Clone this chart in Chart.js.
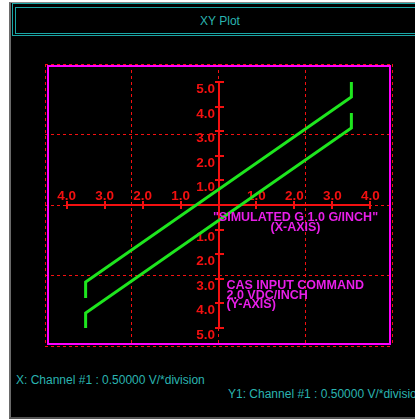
<!DOCTYPE html>
<html>
<head>
<meta charset="utf-8">
<title>XY Plot</title>
<script src="https://cdn.jsdelivr.net/npm/chart.js@4"></script>
<style>
  html, body { margin: 0; padding: 0; background: #fff; width: 415px; height: 419px; overflow: hidden; }
  #panel {
    position: absolute; left: 9px; top: 2px; width: 420px; height: 414px;
    background: #000; border-left: 2px solid #6a6a6a; border-top: 1px solid #8a8a8a; border-bottom: 2px solid #555;
  }
  #titleOuter {
    position: absolute; left: 12px; top: 3px; width: 420px; height: 33px;
    border: 1px solid #1aa6a6; box-sizing: border-box;
  }
  #titleInner {
    position: absolute; left: 15px; top: 7px; width: 420px; height: 27px;
    border: 1px solid #1aa6a6; box-sizing: border-box;
  }
  #title {
    position: absolute; left: 0; width: 440px; top: 14px; text-align: center;
    font: 12px "Liberation Sans", Arial, sans-serif; color: #2ab4b0;
  }
  .chan { position: absolute; font: 12px "Liberation Sans", Arial, sans-serif; color: #2ab4b0; white-space: nowrap; }
  #chart { position: absolute; left: 0; top: 0; }
</style>
</head>
<body>
<div id="panel"></div>
<div id="titleOuter"></div>
<div id="titleInner"></div>
<div id="title">XY Plot</div>
<div class="chan" style="left:16px; top:373px;">X: Channel #1 : 0.50000 V/*division</div>
<div class="chan" style="left:228px; top:387px;">Y1: Channel #1 : 0.50000 V/*division</div>
<canvas id="chart" width="415" height="419"></canvas>
<script>
'use strict';

/* Data (G on x, command volts on y) */
const upperX = [-3.5, -3.5, 3.5, 3.5];
const upperY = [-3.78, -3.13, 4.39, 5.0];
const lowerX = [-3.5, -3.5, 3.5, 3.5];
const lowerY = [-5.0, -4.39, 3.13, 3.74];

/* Axis ticks drawn on the scanned graph */
const xTickValues = [-4, -3, -2, -1, 1, 2, 3, 4];
const xTickLabels = ['4.0', '3.0', '2.0', '1.0', '1.0', '2.0', '3.0', '4.0'];
const yTickValues = [5, 4, 3, 2, 1, -1, -2, -3, -4, -5];
const yTickLabels = ['5.0', '4.0', '3.0', '2.0', '1.0', '1.0', '2.0', '3.0', '4.0', '5.0'];

const xAxisNote = ['"SIMULATED G 1.0 G/INCH"', '(X-AXIS)'];
const yAxisNote = ['CAS INPUT COMMAND', '2.0 VDC/INCH', '(Y-AXIS)'];

const RED = '#f41010';
const GREEN = '#1ee61e';
const MAGENTA = '#ff00ff';
const MAGENTA_TEXT = '#e81ee8';

function toPoints(xs, ys) {
  return xs.map((x, i) => ({ x: x, y: ys[i] }));
}

/* Scan overlay: magenta frame, cross axes, tick labels, notes */
const scanOverlay = {
  id: 'scanOverlay',
  beforeDatasetsDraw(chart) {
    const ctx = chart.ctx;
    const area = chart.chartArea;
    const sx = chart.scales.x;
    const sy = chart.scales.y;

    ctx.save();
    // magenta frame
    ctx.strokeStyle = MAGENTA;
    ctx.lineWidth = 2;
    ctx.strokeRect(area.left + 3, area.top + 2, area.right - area.left - 5, area.bottom - area.top - 4);

    const x0 = Math.round(sx.getPixelForValue(0));
    const y0 = Math.round(sy.getPixelForValue(0));
    ctx.strokeStyle = RED;
    ctx.lineWidth = 2;

    // horizontal axis
    ctx.beginPath();
    ctx.moveTo(sx.getPixelForValue(-4), y0);
    ctx.lineTo(sx.getPixelForValue(4), y0);
    ctx.stroke();
    // vertical axis
    ctx.beginPath();
    ctx.moveTo(x0, sy.getPixelForValue(5));
    ctx.lineTo(x0, sy.getPixelForValue(-5));
    ctx.stroke();

    // tick marks
    xTickValues.forEach((v) => {
      const px = Math.round(sx.getPixelForValue(v));
      ctx.beginPath();
      ctx.moveTo(px, y0 - 4);
      ctx.lineTo(px, y0 + 4);
      ctx.stroke();
    });
    yTickValues.forEach((v) => {
      const py = Math.round(sy.getPixelForValue(v));
      ctx.beginPath();
      ctx.moveTo(x0 - 4, py);
      ctx.lineTo(x0 + 5, py);
      ctx.stroke();
    });

    // tick labels
    ctx.fillStyle = RED;
    ctx.font = 'bold 13.5px "Liberation Sans", Arial, sans-serif';
    ctx.textBaseline = 'alphabetic';
    ctx.textAlign = 'center';
    xTickValues.forEach((v, i) => {
      ctx.fillText(xTickLabels[i], sx.getPixelForValue(v), y0 - 5);
    });
    ctx.textAlign = 'right';
    yTickValues.forEach((v, i) => {
      ctx.fillText(yTickLabels[i], x0 - 4, sy.getPixelForValue(v) + 11);
    });
    ctx.restore();
  },
  afterDatasetsDraw(chart) {
    const ctx = chart.ctx;
    const sx = chart.scales.x;
    const sy = chart.scales.y;
    const x0 = sx.getPixelForValue(0);
    const y0 = sy.getPixelForValue(0);

    ctx.save();
    ctx.fillStyle = MAGENTA_TEXT;
    ctx.font = 'bold 12.5px "Liberation Sans", Arial, sans-serif';
    ctx.textBaseline = 'alphabetic';
    ctx.textAlign = 'center';
    xAxisNote.forEach((line, i) => {
      ctx.fillText(line, x0 + 77, y0 + 16 + i * 9.5);
    });
    ctx.textAlign = 'left';
    yAxisNote.forEach((line, i) => {
      ctx.fillText(line, x0 + 8, y0 + 84 + i * 9.5);
    });
    ctx.restore();
  }
};

/* Oscilloscope division grid (4 x 4, dashed) */
const scopeGrid = {
  type: 'linear',
  display: true,
  min: -2,
  max: 2,
  ticks: { display: false, stepSize: 1 },
  grid: { color: RED, lineWidth: 1, drawTicks: false },
  border: { display: false, dash: [3, 3] }
};

new Chart(document.getElementById('chart'), {
  type: 'scatter',
  data: {
    datasets: [
      {
        label: 'upper',
        data: toPoints(upperX, upperY),
        showLine: true,
        borderColor: GREEN,
        borderWidth: 3,
        pointRadius: 0,
        xAxisID: 'x',
        yAxisID: 'y'
      },
      {
        label: 'lower',
        data: toPoints(lowerX, lowerY),
        showLine: true,
        borderColor: GREEN,
        borderWidth: 3,
        pointRadius: 0,
        xAxisID: 'x',
        yAxisID: 'y'
      }
    ]
  },
  options: {
    responsive: false,
    animation: false,
    devicePixelRatio: 1,
    layout: { padding: { left: 45, top: 64, right: 23, bottom: 73 } },
    plugins: { legend: { display: false }, tooltip: { enabled: false } },
    scales: {
      x: { type: 'linear', display: false, min: -4.57, max: 4.57 },
      y: { type: 'linear', display: false, min: -5.73, max: 5.73 },
      gx: Object.assign({ position: 'bottom' }, scopeGrid),
      gy: Object.assign({ position: 'left' }, scopeGrid)
    }
  },
  plugins: [scanOverlay]
});
</script>
</body>
</html>
